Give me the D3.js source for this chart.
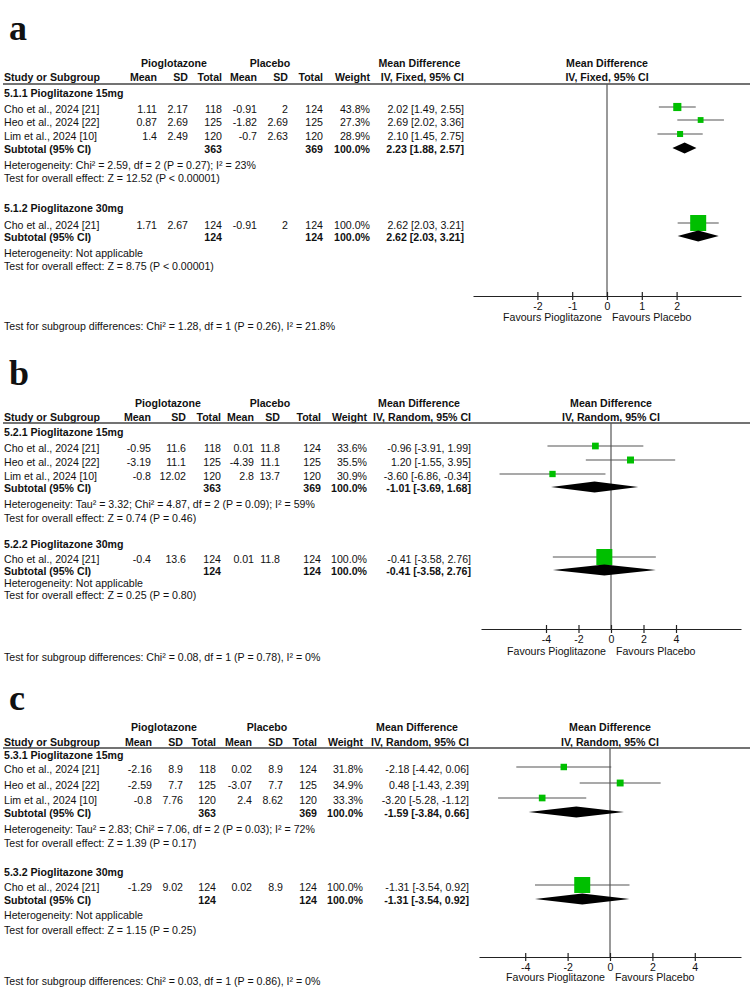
<!DOCTYPE html>
<html><head><meta charset="utf-8">
<script src="https://cdn.jsdelivr.net/npm/d3@7"></script>
<style>
body{margin:0;background:#fff;}
svg{display:block;}
text{font-family:"Liberation Sans",Arial,sans-serif;font-size:10.6px;fill:#111;}
</style>
</head><body><svg id="chart" width="750" height="1000"></svg>
<script>
// ---------------- DATA ----------------
const panelLabels = ["a", "b", "c"];
const methodLabels = ["IV, Fixed, 95% CI", "IV, Random, 95% CI", "IV, Random, 95% CI"];
const columnHeaders = ["Mean", "SD", "Total", "Mean", "SD", "Total", "Weight"];
const groupHeaders = ["Pioglotazone", "Placebo", "Mean Difference"];
const favoursLabels = ["Favours Pioglitazone", "Favours Placebo"];
const subgroupTitles = [
  ["5.1.1 Pioglitazone 15mg", "5.1.2 Pioglitazone 30mg"],
  ["5.2.1 Pioglitazone 15mg", "5.2.2 Pioglitazone 30mg"],
  ["5.3.1 Pioglitazone 15mg", "5.3.2 Pioglitazone 30mg"]
];
// study rows: name, exp mean, exp SD, exp total, ctl mean, ctl SD, ctl total, weight %, MD, lower, upper
const studiesA1 = [
  ["Cho et al., 2024 [21]", 1.11, 2.17, 118, -0.91, 2, 124, 43.8, 2.02, 1.49, 2.55],
  ["Heo et al., 2024 [22]", 0.87, 2.69, 125, -1.82, 2.69, 125, 27.3, 2.69, 2.02, 3.36],
  ["Lim et al., 2024 [10]", 1.4, 2.49, 120, -0.7, 2.63, 120, 28.9, 2.10, 1.45, 2.75]
];
const studiesA2 = [
  ["Cho et al., 2024 [21]", 1.71, 2.67, 124, -0.91, 2, 124, 100.0, 2.62, 2.03, 3.21]
];
const studiesB1 = [
  ["Cho et al., 2024 [21]", -0.95, 11.6, 118, 0.01, 11.8, 124, 33.6, -0.96, -3.91, 1.99],
  ["Heo et al., 2024 [22]", -3.19, 11.1, 125, -4.39, 11.1, 125, 35.5, 1.20, -1.55, 3.95],
  ["Lim et al., 2024 [10]", -0.8, 12.02, 120, 2.8, 13.7, 120, 30.9, -3.60, -6.86, -0.34]
];
const studiesB2 = [
  ["Cho et al., 2024 [21]", -0.4, 13.6, 124, 0.01, 11.8, 124, 100.0, -0.41, -3.58, 2.76]
];
const studiesC1 = [
  ["Cho et al., 2024 [21]", -2.16, 8.9, 118, 0.02, 8.9, 124, 31.8, -2.18, -4.42, 0.06],
  ["Heo et al., 2024 [22]", -2.59, 7.7, 125, -3.07, 7.7, 125, 34.9, 0.48, -1.43, 2.39],
  ["Lim et al., 2024 [10]", -0.8, 7.76, 120, 2.4, 8.62, 120, 33.3, -3.20, -5.28, -1.12]
];
const studiesC2 = [
  ["Cho et al., 2024 [21]", -1.29, 9.02, 124, 0.02, 8.9, 124, 100.0, -1.31, -3.54, 0.92]
];
// subtotals: exp total, ctl total, weight %, MD, lower, upper
const subtotalsA = [[363, 369, 100.0, 2.23, 1.88, 2.57], [124, 124, 100.0, 2.62, 2.03, 3.21]];
const subtotalsB = [[363, 369, 100.0, -1.01, -3.69, 1.68], [124, 124, 100.0, -0.41, -3.58, 2.76]];
const subtotalsC = [[363, 369, 100.0, -1.59, -3.84, 0.66], [124, 124, 100.0, -1.31, -3.54, 0.92]];
const heterogeneityTexts = [
  ["Heterogeneity: Chi\u00B2 = 2.59, df = 2 (P = 0.27); I\u00B2 = 23%", "Heterogeneity: Not applicable"],
  ["Heterogeneity: Tau\u00B2 = 3.32; Chi\u00B2 = 4.87, df = 2 (P = 0.09); I\u00B2 = 59%", "Heterogeneity: Not applicable"],
  ["Heterogeneity: Tau\u00B2 = 2.83; Chi\u00B2 = 7.06, df = 2 (P = 0.03); I\u00B2 = 72%", "Heterogeneity: Not applicable"]
];
const overallEffectTexts = [
  ["Test for overall effect: Z = 12.52 (P < 0.00001)", "Test for overall effect: Z = 8.75 (P < 0.00001)"],
  ["Test for overall effect: Z = 0.74 (P = 0.46)", "Test for overall effect: Z = 0.25 (P = 0.80)"],
  ["Test for overall effect: Z = 1.39 (P = 0.17)", "Test for overall effect: Z = 1.15 (P = 0.25)"]
];
const subgroupDiffTexts = [
  "Test for subgroup differences: Chi\u00B2 = 1.28, df = 1 (P = 0.26), I\u00B2 = 21.8%",
  "Test for subgroup differences: Chi\u00B2 = 0.08, df = 1 (P = 0.78), I\u00B2 = 0%",
  "Test for subgroup differences: Chi\u00B2 = 0.03, df = 1 (P = 0.86), I\u00B2 = 0%"
];
const axisTicks = [[-2, -1, 0, 1, 2], [-4, -2, 0, 2, 4], [-4, -2, 0, 2, 4]];
const axisDomains = [[-3.85, 3.85], [-8, 8], [-6.18, 6.18]];

// ---------------- LAYOUT ----------------
const layouts = [
  { labelY: 40, row1: 63, hdr: 77, line: 84, sg: [93, 208], studies: [[109, 122, 136], [225]], sub: [149, 237],
    het: [165, 253], test: [178, 266], axis: 296, fav: 317, sgtest: 326,
    cols: [157, 188, 222, 257, 288, 323, 370, 464], pio: 174, plac: 270, range: [473, 741] },
  { labelY: 385, row1: 403, hdr: 417, line: 423, sg: [432, 544], studies: [[448, 462, 476], [559]], sub: [488, 571],
    het: [504, 583], test: [518, 595], axis: 629, fav: 651, sgtest: 657,
    cols: [151, 186, 221, 254, 280, 321, 367, 471], pio: 168, plac: 270, range: [481, 741] },
  { labelY: 710, row1: 727, hdr: 742, line: 748, sg: [755, 872], studies: [[769, 785, 800], [887]], sub: [813, 900],
    het: [829, 915], test: [843, 930], axis: 957, fav: 977, sgtest: 981,
    cols: [152, 183, 216, 252, 283, 317, 363, 469], pio: 164, plac: 267, range: [479, 741] }
];

const allStudies = [[studiesA1, studiesA2], [studiesB1, studiesB2], [studiesC1, studiesC2]];
const allSubtotals = [subtotalsA, subtotalsB, subtotalsC];

const svg = d3.select("#chart");
const BL = 4; // baseline offset from visual centre
const green = "#00bf00";
const lineCol = "#555";

function fmtW(w) { return w.toFixed(1) + "%"; }
function fmtMD(m, l, u) { return m.toFixed(2) + " [" + l.toFixed(2) + ", " + u.toFixed(2) + "]"; }

panelLabels.forEach((lab, pi) => {
  const L = layouts[pi];
  const g = svg.append("g");
  const x = d3.scaleLinear().domain(axisDomains[pi]).range(L.range);
  const x0 = x(0);

  // panel label
  g.append("text").attr("x", 9).attr("y", L.labelY)
    .style("font-family", "'Liberation Serif','Times New Roman',serif")
    .style("font-size", "36px").style("font-weight", "bold").text(lab);

  // header row 1
  const h1 = g.append("g").style("font-weight", "bold").attr("text-anchor", "middle");
  h1.append("text").attr("x", L.pio).attr("y", L.row1 + BL).text(groupHeaders[0]);
  h1.append("text").attr("x", L.plac).attr("y", L.row1 + BL).text(groupHeaders[1]);
  const ivHeader = h1.append("text").attr("x", L.cols[7]).attr("y", L.hdr + BL)
    .attr("text-anchor", "end").text(methodLabels[pi]);
  const ivW = ivHeader.node().getComputedTextLength();
  h1.append("text").attr("x", L.cols[7] - ivW / 2 - 3).attr("y", L.row1 + BL).text(groupHeaders[2]);
  h1.append("text").attr("x", x0).attr("y", L.row1 + BL).text(groupHeaders[2]);
  h1.append("text").attr("x", x0).attr("y", L.hdr + BL).text(methodLabels[pi]);

  // header row 2
  const h2 = g.append("g").style("font-weight", "bold");
  h2.append("text").attr("x", 4).attr("y", L.hdr + BL).text("Study or Subgroup");
  columnHeaders.forEach((c, ci) => {
    h2.append("text").attr("x", L.cols[ci]).attr("y", L.hdr + BL).attr("text-anchor", "end").text(c);
  });

  // header rule
  g.append("line").attr("x1", 3).attr("x2", 750).attr("y1", L.line).attr("y2", L.line)
    .attr("stroke", "#444").attr("stroke-width", 1.6);

  // zero line
  g.append("line").attr("x1", x0).attr("x2", x0).attr("y1", L.line).attr("y2", L.axis)
    .attr("stroke", "#555").attr("stroke-width", 1.2);

  // subgroups
  allStudies[pi].forEach((studies, gi) => {
    g.append("text").attr("x", 4).attr("y", L.sg[gi] + BL).style("font-weight", "bold").text(subgroupTitles[pi][gi]);
    studies.forEach((s, si) => {
      const y = L.studies[gi][si];
      g.append("text").attr("x", 4).attr("y", y + BL).text(s[0]);
      for (let c = 1; c <= 6; c++) {
        g.append("text").attr("x", L.cols[c - 1]).attr("y", y + BL).attr("text-anchor", "end").text(String(s[c]));
      }
      g.append("text").attr("x", L.cols[6]).attr("y", y + BL).attr("text-anchor", "end").text(fmtW(s[7]));
      g.append("text").attr("x", L.cols[7]).attr("y", y + BL).attr("text-anchor", "end").text(fmtMD(s[8], s[9], s[10]));
      const my = y - 2;
      g.append("line").attr("x1", x(s[9])).attr("x2", x(s[10])).attr("y1", my).attr("y2", my)
        .attr("stroke", lineCol).attr("stroke-width", 1.2);
      const sz = 2 + 14 * s[7] / 100;
      g.append("rect").attr("x", x(s[8]) - sz / 2).attr("y", my - sz / 2).attr("width", sz).attr("height", sz)
        .attr("fill", green);
    });
    // subtotal
    const st = allSubtotals[pi][gi];
    const sy = L.sub[gi];
    const sg = g.append("g").style("font-weight", "bold");
    sg.append("text").attr("x", 4).attr("y", sy + BL).text("Subtotal (95% CI)");
    sg.append("text").attr("x", L.cols[2]).attr("y", sy + BL).attr("text-anchor", "end").text(String(st[0]));
    sg.append("text").attr("x", L.cols[5]).attr("y", sy + BL).attr("text-anchor", "end").text(String(st[1]));
    sg.append("text").attr("x", L.cols[6]).attr("y", sy + BL).attr("text-anchor", "end").text(fmtW(st[2]));
    sg.append("text").attr("x", L.cols[7]).attr("y", sy + BL).attr("text-anchor", "end").text(fmtMD(st[3], st[4], st[5]));
    const dy = sy - 1, hh = 5.5;
    const dpath = d3.path();
    dpath.moveTo(x(st[4]), dy);
    dpath.lineTo(x(st[3]), dy - hh);
    dpath.lineTo(x(st[5]), dy);
    dpath.lineTo(x(st[3]), dy + hh);
    dpath.closePath();
    g.append("path").attr("d", dpath.toString()).attr("fill", "#000");
    g.append("text").attr("x", 4).attr("y", L.het[gi] + BL).text(heterogeneityTexts[pi][gi]);
    g.append("text").attr("x", 4).attr("y", L.test[gi] + BL).text(overallEffectTexts[pi][gi]);
  });

  // axis
  const ax = g.append("g").attr("transform", `translate(0,${L.axis})`)
    .call(d3.axisBottom(x).tickValues(axisTicks[pi]).tickFormat(d => String(d))
      .tickSizeInner(4).tickSizeOuter(0).tickPadding(2));
  ax.select(".domain").attr("stroke", "#222").attr("stroke-width", 1.2);
  ax.selectAll(".tick line").attr("y1", -4).attr("y2", 4).attr("stroke", "#222").attr("stroke-width", 1.2);
  ax.selectAll(".tick text").style("font-family", "'Liberation Sans',Arial,sans-serif").style("font-size", "10.6px").attr("fill", "#111");

  g.append("text").attr("x", x0 - 5).attr("y", L.fav + BL).attr("text-anchor", "end").text(favoursLabels[0]);
  g.append("text").attr("x", x0 + 5).attr("y", L.fav + BL).text(favoursLabels[1]);

  g.append("text").attr("x", 4).attr("y", L.sgtest + BL).text(subgroupDiffTexts[pi]);
});
</script>
</body></html>
